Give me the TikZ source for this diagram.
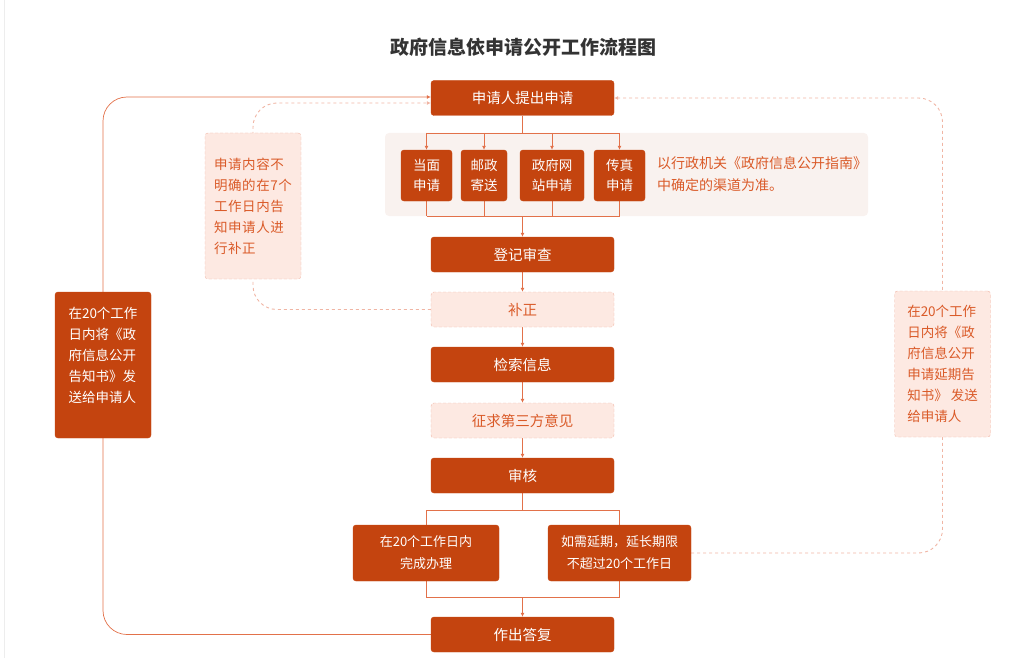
\documentclass[tikz,border=0pt]{standalone}
\usepackage{fontspec}
\setmainfont{Noto Sans CJK SC}
\newfontfamily\spacedfont[LetterSpace=4]{Noto Sans CJK SC}
\usetikzlibrary{arrows.meta,backgrounds}
\definecolor{boxred}{HTML}{C4440F}
\definecolor{softfill}{HTML}{FDE9E2}
\definecolor{softline}{HTML}{F0B5A4}
\definecolor{panelfill}{HTML}{F9F2EF}
\definecolor{noteorange}{HTML}{DA5A28}
\definecolor{lineorange}{HTML}{E2714A}
\definecolor{titlegray}{HTML}{333333}
\tikzset{
  stepbox/.style={fill=boxred, draw=boxred, rounded corners=3pt, text=white, inner sep=0pt,
    minimum width=183pt, minimum height=35pt, font=\fontsize{14.5}{16}\selectfont},
  softbox/.style={stepbox, fill=softfill, draw=softline, dash pattern=on 3pt off 2pt, text=noteorange},
  chanbox/.style={stepbox, minimum height=51pt, align=center, font=\fontsize{13.5}{20}\selectfont},
  endbox/.style={stepbox, minimum height=56pt, align=center, font=\fontsize{13}{22}\selectfont},
  sidebox/.style={stepbox, minimum width=96pt, minimum height=146pt, align=left, font=\fontsize{13.5}{21}\selectfont},
  softside/.style={sidebox, fill=softfill, draw=softline, dash pattern=on 3pt off 2pt, text=noteorange},
  link/.style={draw=lineorange, line width=0.7pt},
  arr/.style={link, -{Latex[length=4pt,width=4pt]}},
  dashlink/.style={draw=softline, line width=0.9pt, dash pattern=on 3pt off 3pt, -{Latex[length=4pt,width=4pt]}},
}
\begin{document}
\begin{tikzpicture}[x=1pt,y=-1pt]
  \useasboundingbox (0,0) rectangle (1033,658);
  % Page edge
  \draw[black!7] (4.5,0) -- (4.5,658);
  % Title
  \node[text=titlegray, font=\fontsize{19}{22}\selectfont\bfseries] (title) at (523,47) {政府信息依申请公开工作流程图};

  % Main steps
  \node[stepbox] (apply) at (522.5,98) {申请人提出申请};
  \node[chanbox, minimum width=51pt] (face) at (426.5,175.5) {当面\\申请};
  \node[chanbox, minimum width=46pt] (post) at (484,175.5) {邮政\\寄送};
  \node[chanbox, minimum width=64pt] (web)  at (552,175.5) {政府网\\站申请};
  \node[chanbox, minimum width=51pt] (fax)  at (619.5,175.5) {传真\\申请};
  \node[anchor=west, align=left, text=noteorange, inner sep=0pt, font=\fontsize{14}{22}\selectfont] (guide)
       at (657,174) {以行政机关《政府信息公开指南》\\中确定的渠道为准。};
  \node[stepbox] (register) at (522.5,254.5) {登记审查};
  \node[softbox] (fix)      at (522.5,309.5) {补正};
  \node[stepbox] (search)   at (522.5,364.5) {检索信息};
  \node[softbox] (opinion)  at (522.5,420.5) {征求第三方意见};
  \node[stepbox] (review)   at (522.5,475.5) {审核};
  \node[endbox, minimum width=146pt] (done)   at (426,553)   {在20个工作日内\\完成办理};
  \node[endbox, minimum width=143pt] (extend) at (619.5,553) {如需延期，延长期限\\不超过20个工作日};
  \node[stepbox] (reply)    at (522.5,634.5) {作出答复};

  % Side notes
  \node[sidebox]  (inform)     at (103,365)   {在20个工作\\日内将《政\\府信息公开\\告知书》发\\送给申请人\\\mbox{}};
  \node[softside, font=\fontsize{13.5}{21}\spacedfont] (supplement) at (253,206)
       {申请内容不\\明确的在7个\\工作日内告\\知申请人进\\行补正};
  \node[softside] (delay)      at (942.5,364) {在20个工作\\日内将《政\\府信息公开\\申请延期告\\知书》 发送\\给申请人};

  \begin{scope}[on background layer]
    % Channel panel
    \fill[panelfill, rounded corners=4pt] (385,133) rectangle (868,216);
    % Channels
    \coordinate (fork) at (522.5,133);
    \coordinate (join) at (522.5,216);
    \draw[link] (apply) -- (fork);
    \draw[link] (face.north |- fork) -- (fax.north |- fork);
    \foreach \c in {face,post,web,fax} {
      \draw[arr] (\c.north |- fork) -- (\c.north);
      \draw[link] (\c.south) -- (\c.south |- join);
    }
    \draw[link] (face.south |- join) -- (fax.south |- join);
    \draw[arr] (join) -- (register);
    % Steps
    \draw[arr] (register) -- (fix);
    \draw[arr] (fix) -- (search);
    \draw[arr] (search) -- (opinion);
    \draw[arr] (opinion) -- (review);
    % Branch and merge
    \coordinate (split) at (522.5,510);
    \coordinate (merge) at (522.5,597);
    \draw[link] (review) -- (split);
    \draw[link] (done.north |- split) -- (extend.north |- split);
    \draw[link] (done.north |- split) -- (done.north);
    \draw[link] (extend.north |- split) -- (extend.north);
    \draw[link] (done.south) -- (done.south |- merge) -- (extend.south |- merge) -- (extend.south);
    \draw[arr] (merge) -- (reply);
    % Loops back to the applicant
    \draw[arr, rounded corners=24pt] (reply.west) -- (reply.west -| inform)
         -- ([yshift=1pt]apply.west -| inform) -- ([yshift=1pt]apply.west);
    \draw[dashlink, rounded corners=24pt] (fix.west) -- (fix.west -| supplement)
         -- ([yshift=-5pt]apply.west -| supplement) -- ([yshift=-5pt]apply.west);
    \draw[dashlink, rounded corners=24pt] (extend.east) -- (extend.east -| delay)
         -- (apply.east -| delay) -- (apply.east);
  \end{scope}
\end{tikzpicture}
\end{document}
